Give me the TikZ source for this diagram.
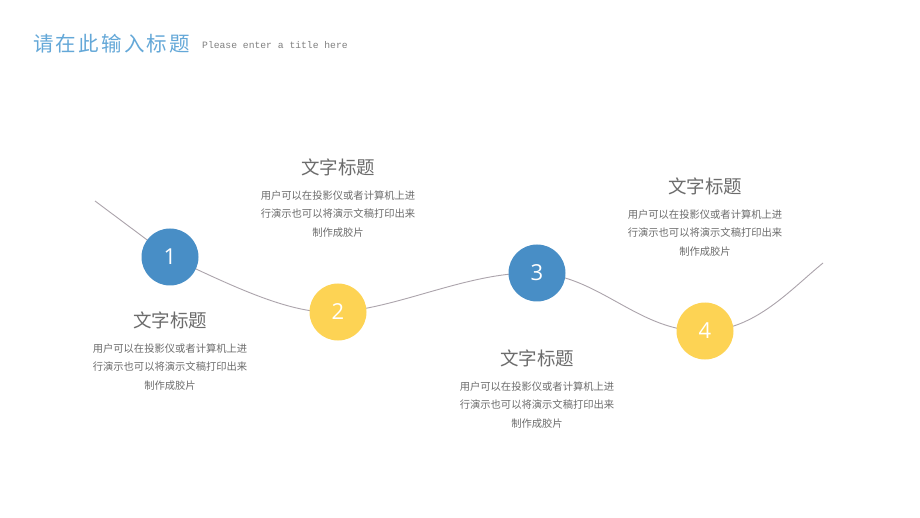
\documentclass[tikz,border=0pt]{standalone}
\usepackage{fontspec}
\setmainfont{Noto Sans CJK SC}
\newfontfamily\cjk{Noto Sans CJK SC}
\newfontfamily\nums{Open Sans}
\setmonofont{Liberation Mono}
\usetikzlibrary{backgrounds}
\definecolor{stepblue}{RGB}{72,142,198}
\definecolor{stepyellow}{RGB}{253,211,84}
\definecolor{titleblue}{RGB}{100,168,216}
\definecolor{wavegray}{RGB}{172,164,172}
\definecolor{textgray}{RGB}{108,108,108}

\begin{document}
\begin{tikzpicture}[x=1pt,y=-1pt]
\tikzstyle{every node}=[inner sep=0pt]
\tikzstyle{dot}=[circle,minimum size=57pt,text=white,font=\nums\fontsize{22}{24}\selectfont]
\tikzstyle{head}=[text=textgray,font=\cjk\fontsize{18.5}{20}\selectfont]
\tikzstyle{body}=[text=textgray,align=center,font=\cjk\fontsize{10.3}{18.6}\selectfont]
\useasboundingbox (0,0) rectangle (920,518);
% title
\node[anchor=west,text=titleblue,font=\cjk\fontsize{20.5}{22}\selectfont\addfontfeature{LetterSpace=11}] (title) at (33,44) {请在此输入标题};
\node[anchor=west,text=gray,font=\ttfamily\fontsize{9.7}{10}\selectfont] (sub) at (202,45) {Please enter a title here};
% steps
\node[dot,fill=stepblue] (s1) at (170,257) {1};
\node[dot,fill=stepyellow] (s2) at (338,312) {2};
\node[dot,fill=stepblue] (s3) at (537,273) {3};
\node[dot,fill=stepyellow] (s4) at (705,331) {4};
\coordinate (w0) at (95,201);
\coordinate (w5) at (823,263);
% wave
\begin{scope}[on background layer]
\fill[white] (0,0) rectangle (920,518);
\draw[wavegray,line width=0.9pt] (w0) -- (s1.center)
  .. controls (225,282) and (290,316) .. (s2.center)
  .. controls (400,308) and (470,271) .. (s3.center)
  .. controls (600,276) and (640,333) .. (s4.center)
  .. controls (755,330) and (790,290) .. (w5);
\end{scope}
% texts
\node[head] (h1) at (170,320) {文字标题};
\node[body] (b1) at (170,367) {用户可以在投影仪或者计算机上进\\行演示也可以将演示文稿打印出来\\制作成胶片};
\node[head] (h2) at (338,167) {文字标题};
\node[body] (b2) at (338,214) {用户可以在投影仪或者计算机上进\\行演示也可以将演示文稿打印出来\\制作成胶片};
\node[head] (h3) at (537,358) {文字标题};
\node[body] (b3) at (537,405) {用户可以在投影仪或者计算机上进\\行演示也可以将演示文稿打印出来\\制作成胶片};
\node[head] (h4) at (705,186) {文字标题};
\node[body] (b4) at (705,233) {用户可以在投影仪或者计算机上进\\行演示也可以将演示文稿打印出来\\制作成胶片};
\end{tikzpicture}
\end{document}
